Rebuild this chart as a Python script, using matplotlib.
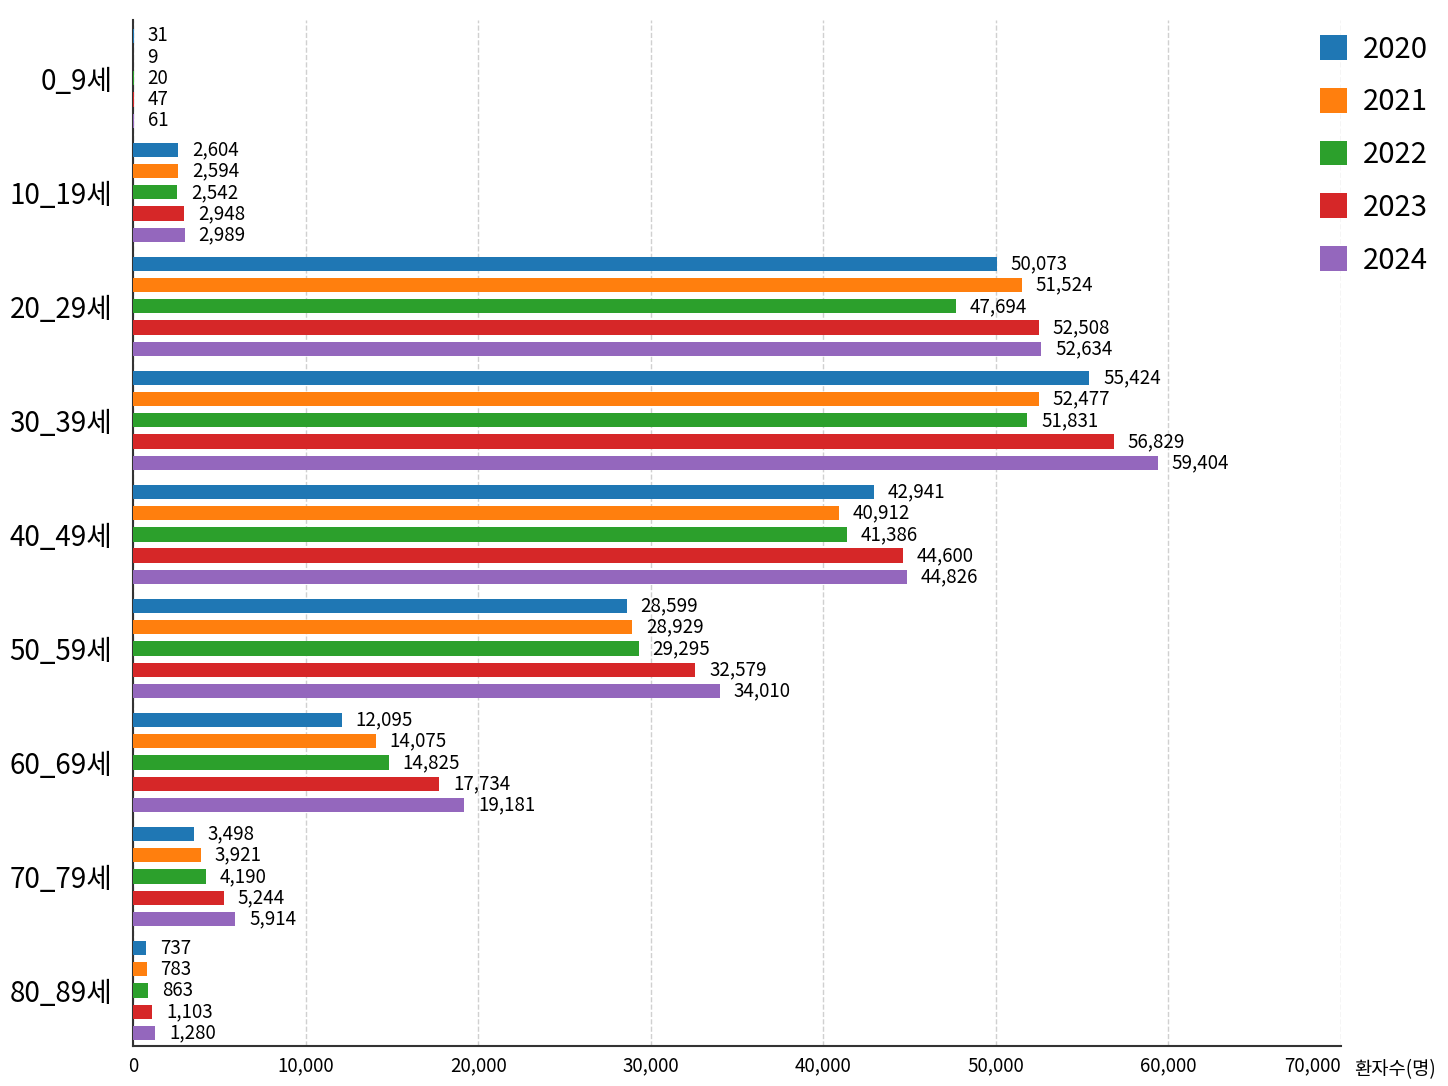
import numpy as np
import matplotlib.pyplot as plt

plt.rcParams['font.family'] = ['Noto Sans CJK KR', 'DejaVu Sans']

# -----------------------
# data
# -----------------------

ages = ["0_9세", "10_19세", "20_29세", "30_39세", "40_49세",
        "50_59세", "60_69세", "70_79세", "80_89세"]
years = ["2020", "2021", "2022", "2023", "2024"]

v2020 = [31, 2604, 50073, 55424, 42941, 28599, 12095, 3498, 737]
v2021 = [9, 2594, 51524, 52477, 40912, 28929, 14075, 3921, 783]
v2022 = [20, 2542, 47694, 51831, 41386, 29295, 14825, 4190, 863]
v2023 = [47, 2948, 52508, 56829, 44600, 32579, 17734, 5244, 1103]
v2024 = [61, 2989, 52634, 59404, 44826, 34010, 19181, 5914, 1280]

xticks = [0, 10000, 20000, 30000, 40000, 50000, 60000, 70000]

series = [v2020, v2021, v2022, v2023, v2024]
colors = ["#1f77b4", "#ff7f0e", "#2ca02c", "#d62728", "#9467bd"]

# -----------------------
# plot
# -----------------------

fig = plt.figure(figsize=(14.48, 10.86), dpi=100)
ax = fig.add_axes([0.092, 0.037, 0.834, 0.945])

y = np.arange(len(ages))
step = 0.186
height = 0.125

for i, (vals, col, yr) in enumerate(zip(series, colors, years)):
    pos = y + (i - 2) * step
    ax.barh(pos, vals, height=height, color=col, label=yr, zorder=3)
    for p, v in zip(pos, vals):
        ax.text(v + 800, p, f"{v:,}", va="center", ha="left",
                fontsize=13.5, fontweight="medium", zorder=4)

ax.set_ylim(8.485, -0.515)
ax.set_xlim(0, 70000)
ax.set_yticks(y)
ax.set_yticklabels(ages, fontsize=20, fontweight="medium")
ax.set_xticks(xticks)
ax.set_xticklabels([f"{t:,}" for t in xticks], fontsize=13.5,
                   fontweight="medium")
ax.get_xticklabels()[-1].set_horizontalalignment("right")
ax.tick_params(axis="x", length=0, pad=7)
ax.tick_params(axis="y", length=0, pad=15)

ax.grid(axis="x", linestyle="--", color="#d0d0d0", linewidth=1, zorder=0)
ax.spines["top"].set_visible(False)
ax.spines["right"].set_visible(False)
ax.spines["left"].set_color("#333333")
ax.spines["bottom"].set_color("#333333")
ax.spines["left"].set_linewidth(1.5)
ax.spines["bottom"].set_linewidth(1.5)

ax.text(1.011, -0.013, "환자수(명)", transform=ax.transAxes,
        fontsize=13.5, fontweight="medium", ha="left", va="top")

leg = ax.legend(loc="upper right", bbox_to_anchor=(1.094, 1.011), frameon=False,
                fontsize=21, handlelength=0.93, handleheight=0.93,
                labelspacing=0.78, handletextpad=0.55)

fig.savefig("out.png", dpi=100)
plt.close(fig)
